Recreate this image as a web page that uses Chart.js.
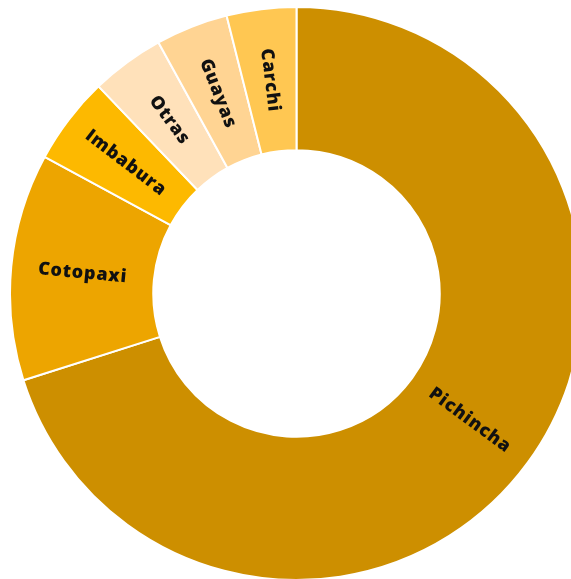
<!DOCTYPE html>
<html>
<head>
<meta charset="utf-8">
<script src="https://cdn.jsdelivr.net/npm/chart.js@4.4.1/dist/chart.umd.min.js"></script>
<style>
  html, body { margin: 0; padding: 0; background: #fff; overflow: hidden; width: 571px; height: 579px; }
  #wrap { position: absolute; left: 8.5px; top: 6px; width: 575px; height: 575px; }
</style>
</head>
<body>
<div id="wrap"><canvas id="c" width="575" height="575"></canvas></div>
<script>
const categories = ["Pichincha", "Cotopaxi", "Imbabura", "Otras", "Guayas", "Carchi"];
const values = [70.1, 12.8, 4.95, 4.14, 4.08, 3.92];
const colors = ["#CD8F00", "#EDA500", "#FDB900", "#FFE1BA", "#FFD493", "#FFC752"];

const labelPlugin = {
  id: 'sliceLabels',
  afterDatasetsDraw(chart) {
    const ctx = chart.ctx;
    const meta = chart.getDatasetMeta(0);
    meta.data.forEach((arc, i) => {
      const p = arc.getProps(['x', 'y', 'startAngle', 'endAngle', 'innerRadius', 'outerRadius'], true);
      const mid = (p.startAngle + p.endAngle) / 2;
      const r = (p.innerRadius + p.outerRadius) / 2;
      const x = p.x + Math.cos(mid) * r;
      const y = p.y + Math.sin(mid) * r;
      let rot = mid;
      while (rot > Math.PI / 2) rot -= Math.PI;
      while (rot <= -Math.PI / 2) rot += Math.PI;
      ctx.save();
      ctx.translate(x, y);
      ctx.rotate(rot);
      ctx.font = "800 18px 'Open Sans', sans-serif";
      try { ctx.letterSpacing = '0.8px'; } catch (e) {}
      ctx.fillStyle = "#111";
      ctx.textAlign = "center";
      ctx.textBaseline = "middle";
      ctx.fillText(categories[i], 0, 0);
      ctx.restore();
    });
  }
};

new Chart(document.getElementById('c'), {
  type: 'doughnut',
  data: {
    labels: categories,
    datasets: [{
      data: values,
      backgroundColor: colors,
      borderColor: '#ffffff',
      borderWidth: 2
    }]
  },
  options: {
    responsive: false,
    animation: false,
    cutout: '50%',
    layout: { padding: 0 },
    plugins: { legend: { display: false }, tooltip: { enabled: false } }
  },
  plugins: [labelPlugin]
});
</script>
</body>
</html>
